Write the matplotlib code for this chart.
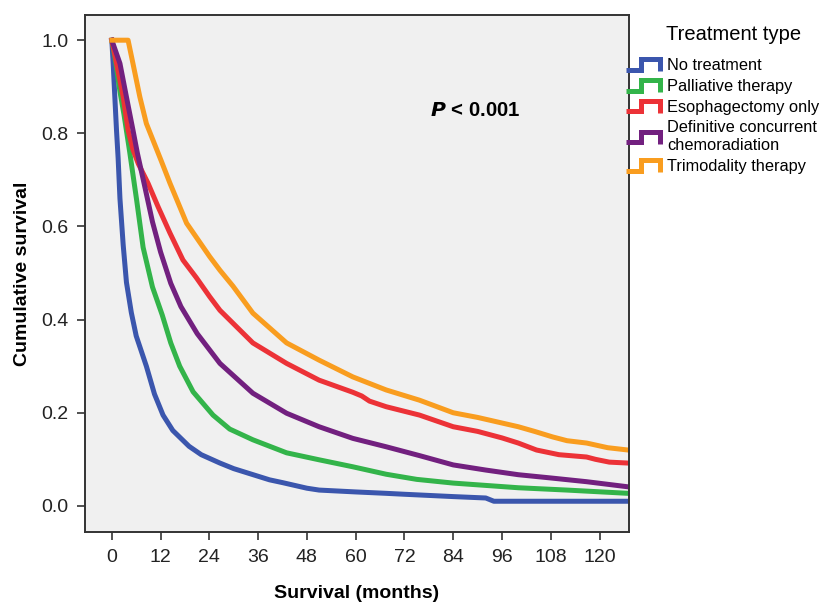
import matplotlib

matplotlib.use("Agg")
import matplotlib.pyplot as plt
import numpy as np
from matplotlib.legend_handler import HandlerBase
from matplotlib.lines import Line2D

plt.rcParams["font.family"] = ["Liberation Sans", "DejaVu Sans"]

# Kaplan-Meier curves (months, cumulative survival)
NONE_T = [0, 0.33, 0.74, 1.15, 1.55, 2.0, 2.8, 3.6, 4.8, 6, 8.5, 10.5, 12.6, 15, 19, 22, 26.6,
          30, 38.8, 42, 48, 51, 60, 67.5, 72, 84, 92, 94, 108, 127]
NONE_S = [1.0, 0.95, 0.878, 0.807, 0.747, 0.66, 0.56, 0.48, 0.415, 0.365, 0.30, 0.24, 0.195,
          0.162, 0.128, 0.11, 0.092, 0.08, 0.056, 0.05, 0.038, 0.034, 0.03, 0.027, 0.025, 0.02,
          0.017, 0.01, 0.01, 0.01]

PALL_T = [0, 1, 2, 3, 4.4, 6.1, 7.7, 10, 12.4, 14.5, 16.7, 20, 24.9, 29, 34.7, 43, 51,
          59.3, 67.5, 75, 84, 100, 112, 127]
PALL_S = [1.0, 0.95, 0.89, 0.84, 0.76, 0.657, 0.555, 0.47, 0.41, 0.35, 0.30, 0.245, 0.195,
          0.165, 0.142, 0.114, 0.099, 0.084, 0.068, 0.057, 0.049, 0.039, 0.034, 0.027]

ESO_T = [0, 1.15, 2.8, 4.0, 5.2, 6.5, 8.9, 11.4, 14.3, 17.5, 20.8, 24.1, 26.6, 34.7, 43, 51,
         59.3, 61.5, 63.4, 67.5, 75.7, 84, 90, 96, 100, 104.5, 110, 116.8, 119, 122.4, 127]
ESO_S = [1.0, 0.95, 0.878, 0.807, 0.765, 0.735, 0.693, 0.642, 0.586, 0.528, 0.49, 0.449, 0.42,
         0.35, 0.306, 0.27, 0.244, 0.236, 0.225, 0.213, 0.195, 0.17, 0.16, 0.146, 0.135, 0.12,
         0.11, 0.105, 0.1, 0.094, 0.092]

CRT_T = [0, 2.0, 3.6, 5.2, 6.3, 8, 10, 12, 14.5, 17, 21, 26.6, 34.7, 43, 51, 59.3, 67.5, 75.7,
         84, 92, 100, 108, 116.8, 127]
CRT_S = [1.0, 0.95, 0.878, 0.807, 0.757, 0.69, 0.61, 0.545, 0.478, 0.428, 0.37, 0.306, 0.242,
         0.199, 0.17, 0.145, 0.127, 0.108, 0.088, 0.077, 0.067, 0.06, 0.052, 0.041]

TRI_T = [0, 4, 5.2, 6.9, 8.5, 10.6, 12.2, 14.3, 18.4, 24.1, 26.6, 29.8, 34.7, 43, 51, 59.3,
         67.5, 75.7, 84, 90, 96, 100, 104, 108.5, 112, 116.8, 122, 127]
TRI_S = [1.0, 1.0, 0.95, 0.878, 0.821, 0.775, 0.74, 0.693, 0.607, 0.535, 0.506, 0.472, 0.414,
         0.35, 0.313, 0.277, 0.249, 0.227, 0.2, 0.19, 0.178, 0.17, 0.16, 0.148, 0.14, 0.135,
         0.125, 0.12]

LABELS = ["No treatment", "Palliative therapy", "Esophagectomy only",
          "Definitive concurrent\nchemoradiation", "Trimodality therapy"]
COLORS = ["#3b56ad", "#33b44a", "#ec3237", "#72207f", "#f99d1f"]
X_TICKS = list(range(0, 121, 12))
Y_TICKS = [0.0, 0.2, 0.4, 0.6, 0.8, 1.0]


class StepHandler(HandlerBase):
    """Draws the little step glyph used in the legend."""

    def create_artists(self, legend, orig_handle, xdescent, ydescent, width, height,
                       fontsize, trans):
        xs = np.array([0.0, 0.45, 0.45, 1.0, 1.0]) * width - xdescent
        ys = np.array([0.15, 0.15, 0.85, 0.85, 0.05]) * height - ydescent
        line = Line2D(xs, ys, color=orig_handle.get_color(),
                      linewidth=orig_handle.get_linewidth(), solid_joinstyle="miter",
                      solid_capstyle="butt")
        line.set_transform(trans)
        return [line]


fig = plt.figure(figsize=(8.22, 6.02), dpi=100)
ax = fig.add_axes([0.1034, 0.1163, 0.6616, 0.8587])
ax.set_facecolor("#f0f0f0")

series = [(NONE_T, NONE_S), (PALL_T, PALL_S), (ESO_T, ESO_S), (CRT_T, CRT_S), (TRI_T, TRI_S)]
handles = []
for (t, s), lab, col in zip(series, LABELS, COLORS):
    (h,) = ax.plot(t, s, color=col, linewidth=3.6, label=lab, solid_joinstyle="round")
    handles.append(h)

ax.set_xlim(-6.6, 127.2)
ax.set_ylim(-0.056, 1.054)
ax.set_xticks(X_TICKS)
ax.set_yticks(Y_TICKS)
ax.set_yticklabels([f"{v:.1f}" for v in Y_TICKS])
ax.tick_params(axis="both", direction="out", length=6, width=1.2, color="#333333",
               labelsize=14, labelcolor="#222222", pad=6)
for sp in ax.spines.values():
    sp.set_color("#333333")
    sp.set_linewidth(1.4)

ax.set_xlabel("Survival (months)", fontsize=14, fontweight="bold", labelpad=14)
ax.set_ylabel("Cumulative survival", fontsize=14, fontweight="bold", labelpad=7)

ax.text(0.717, 0.815, r"$\bfit{P}$ < 0.001", transform=ax.transAxes, fontsize=14.7,
        fontweight="bold", ha="center", va="center")

fig.text(666 / 822, 1 - 40 / 602, "Treatment type", fontsize=14.5, ha="left", va="baseline")
leg = fig.legend(handles=handles, labels=LABELS, loc="upper left",
                 bbox_to_anchor=(0.7615, 0.905), frameon=False, fontsize=11.8,
                 handlelength=2.05, handleheight=1.0, handletextpad=0.45, labelspacing=0.3,
                 borderaxespad=0, borderpad=0, handler_map={Line2D: StepHandler()})
leg.get_texts()[3].set_linespacing(1.3)

fig.savefig("out.png", dpi=100)
